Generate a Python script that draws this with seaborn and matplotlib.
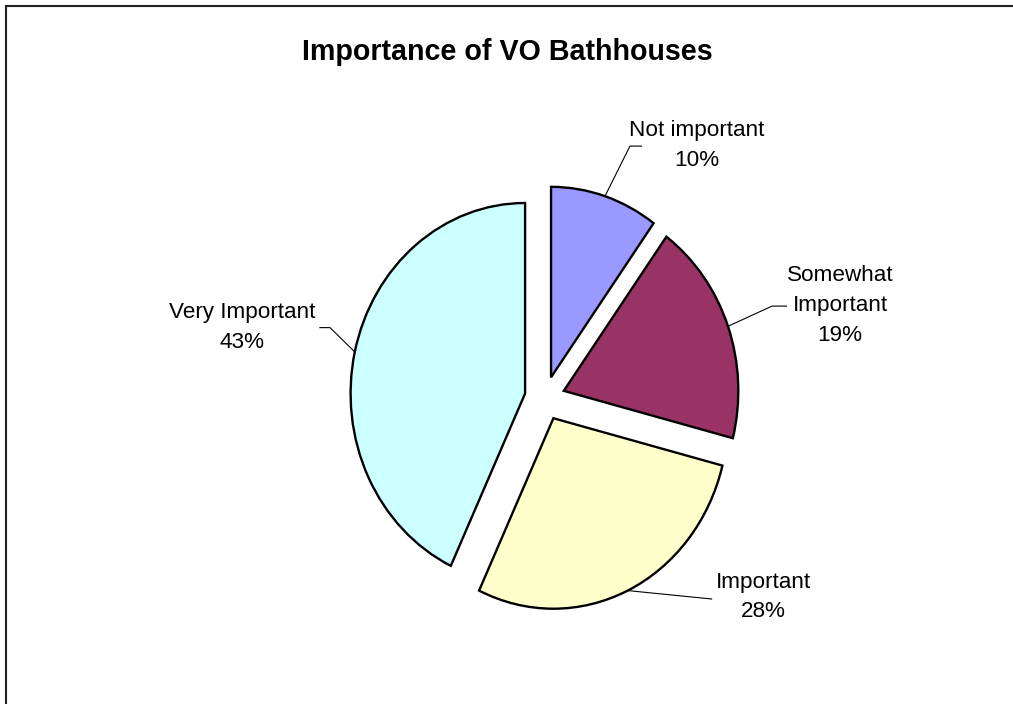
import matplotlib
matplotlib.use("Agg")
import matplotlib.pyplot as plt
import matplotlib.patches as mpatches
import numpy as np
import seaborn as sns

# Survey results, clockwise from 12 o'clock
categories = ["Not important", "Somewhat\nImportant", "Important", "Very Important"]
shares = [10, 19, 28, 43]
colors = ["#9999FF", "#993366", "#FFFFCC", "#CCFFFF"]

# Label block centres and leader-line elbows (axes data units)
label_pos = [(0.873, 1.327), (1.692, 0.487), (1.251, -1.043), (-1.735, 0.371)]
elbows = [
    [(0.488, 1.324), (0.557, 1.324)],
    [(1.302, 0.484), (1.388, 0.484)],
    [(0.959, -1.054)],
    [(-1.231, 0.371), (-1.292, 0.371)],
]

sns.set_theme(style="white")
plt.rcParams["font.family"] = ["Liberation Sans", "DejaVu Sans"]

fig = plt.figure(figsize=(10.13, 7.04), dpi=100)
ax = fig.add_axes([0, 0, 1, 1])

explode_r = 0.1157
wedges, _ = ax.pie(
    shares,
    colors=colors,
    startangle=90,
    counterclock=False,
    explode=[explode_r] * len(shares),
    radius=1.0,
    wedgeprops=dict(edgecolor="black", linewidth=1.7),
)
ax.set_aspect("auto")
ax.set_xlim(-3.122, 2.683)
ax.set_ylim(-1.605, 2.091)
ax.axis("off")

# Leader lines from each wedge's mid-angle on the rim to its label
total = float(sum(shares))
start = 90.0
for i, val in enumerate(shares):
    sweep = 360.0 * val / total
    mid = np.deg2rad(start - sweep / 2)
    start -= sweep
    cx = explode_r * np.cos(mid)
    cy = explode_r * np.sin(mid)
    rim = (cx + np.cos(mid), cy + np.sin(mid))
    pts = [rim] + elbows[i]
    xs, ys = zip(*pts)
    ax.plot(xs, ys, color="black", lw=0.8, solid_capstyle="butt", zorder=3)
    ax.text(label_pos[i][0], label_pos[i][1],
            f"{categories[i]}\n{val}%", ha="center", va="center",
            fontsize=16.2, linespacing=1.55, color="black")

fig.text(507 / 1013, 1 - 52 / 704, "Importance of VO Bathhouses",
         ha="center", va="center", fontsize=20.6, fontweight="bold", color="black")

# Outer chart border (right and bottom edges fall outside the canvas)
fig.patches.append(mpatches.Rectangle(
    (5.5 / 1013, -0.1), 1.2, 1 - 6.5 / 704 + 0.1,
    transform=fig.transFigure, fill=False, lw=1.5, ec="#222222"))

fig.savefig("out.png", dpi=100)
